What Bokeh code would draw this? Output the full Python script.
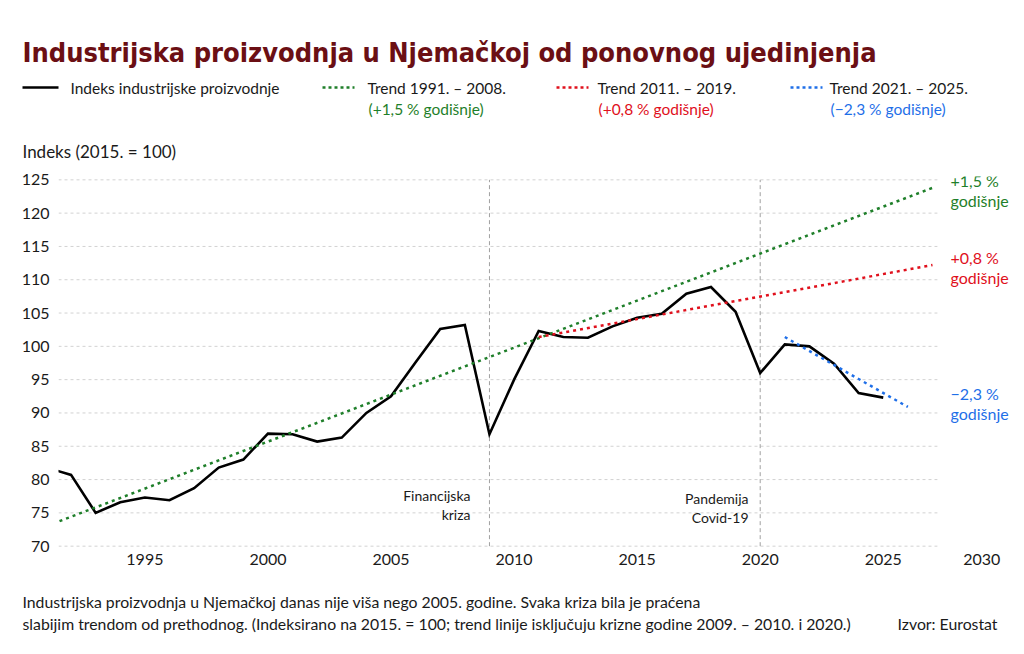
from bokeh.plotting import figure
from bokeh.models import Range1d, FixedTicker, Label
from bokeh.embed import file_html
from bokeh.resources import INLINE

# Index of industrial production, Germany (2015 = 100)
years = list(range(1991, 2026))
index_values = [81.8, 80.7, 75.0, 76.6, 77.3, 76.9, 78.7, 81.8, 83.0, 86.9,
                86.8, 85.7, 86.3, 90.0, 92.5, 97.6, 102.6, 103.2, 86.8, 95.0,
                102.3, 101.4, 101.3, 103.0, 104.3, 104.9, 107.9, 108.9, 105.2, 96.0,
                100.3, 100.0, 97.4, 93.0, 92.3]

# trend lines (start / end)
trend_green_x = [1991, 2027]
trend_green_y = [73.0, 123.8]
trend_red_x = [2011, 2027]
trend_red_y = [101.4, 112.2]
trend_blue_x = [2021, 2026]
trend_blue_y = [101.4, 90.9]

crisis_years = [2009, 2020]
y_ticks = list(range(70, 126, 5))
x_ticks = [1995, 2000, 2005, 2010, 2015, 2020, 2025, 2029]

GREEN = "#1f7f2a"
RED = "#e0101c"
BLUE = "#1f6fe8"
TEXT = "#1a1a1a"
FONT = "Lato"
W = 1020

X_START, X_END = 1991.49, 2030.17
Y_START, Y_END = 69.5, 125.5
GRID_END = 2027.2


def fx(px):
    # page pixel -> data x of the main chart
    return X_START + (px - 58) * (X_END - X_START) / 952


def fy(py):
    # page pixel -> data y of the main chart
    return Y_END - (py - 176) * (Y_END - Y_START) / 373


def blank(top, bottom):
    # text-only strip, its data units are page pixels
    f = figure(width=W, height=bottom - top, output_backend="svg", toolbar_location=None,
               x_range=Range1d(0, W), y_range=Range1d(bottom, top),
               x_axis_type=None, y_axis_type=None, title=None,
               min_border=0)
    f.outline_line_color = None
    return f


def label(f, x, y, text, color=TEXT, size="15.5px", align="left", baseline="middle",
          font=FONT, style="normal"):
    f.add_layout(Label(x=x, y=y, text=text, text_color=color,
                       text_font_size=size, text_align=align, text_baseline=baseline,
                       text_font=font, text_font_style=style))


# ---- header: title and legend
head = blank(0, 165)
label(head, 22, 52, "Industrijska proizvodnja u Njemačkoj od ponovnog ujedinjenja",
      color="#6b0f14", size="27px", baseline="alphabetic",
      font="DejaVu Sans Condensed", style="bold")

head.line([22, 58], [87, 87], line_color="black", line_width=2.5)
label(head, 70, 87, "Indeks industrijske proizvodnje")
head.line([322, 354], [87, 87], line_color=GREEN, line_width=2.5, line_dash="3 3")
label(head, 367, 87, "Trend 1991. – 2008.")
label(head, 368, 108, "(+1,5 % godišnje)", color=GREEN)
head.line([556, 588], [87, 87], line_color=RED, line_width=2.5, line_dash="3 3")
label(head, 597, 87, "Trend 2011. – 2019.")
label(head, 598, 108, "(+0,8 % godišnje)", color=RED)
head.line([790, 822], [87, 87], line_color=BLUE, line_width=2.5, line_dash="3 3")
label(head, 829, 87, "Trend 2021. – 2025.")
label(head, 830, 108, "(−2,3 % godišnje)", color=BLUE)
label(head, 22, 151, "Indeks (2015. = 100)", size="17px")

# ---- main chart
p = figure(width=W, height=415, output_backend="svg", toolbar_location=None, title=None,
           x_range=Range1d(X_START, X_END), y_range=Range1d(Y_START, Y_END),
           min_border_left=58, min_border_right=10, min_border_top=11,
           min_border_bottom=31)
p.xgrid.visible = False
p.ygrid.visible = False
p.outline_line_color = None

for ax in (p.xaxis[0], p.yaxis[0]):
    ax.axis_line_color = None
    ax.major_tick_line_color = None
    ax.minor_tick_line_color = None
    ax.major_tick_in = 0
    ax.major_tick_out = 0
    ax.major_label_text_font = FONT
    ax.major_label_text_font_size = "16px"
    ax.major_label_text_color = TEXT

p.yaxis.ticker = FixedTicker(ticks=y_ticks)
p.yaxis.major_label_standoff = 9
p.xaxis.ticker = FixedTicker(ticks=x_ticks)
p.xaxis.major_label_overrides = {2029: "2030"}
p.xaxis.major_label_standoff = 4

# dashed horizontal grid
p.segment(x0=X_START, x1=GRID_END, y0=y_ticks, y1=y_ticks,
          line_color="#d2d2d2", line_width=1, line_dash="3 3")
# crisis markers
p.segment(x0=crisis_years, x1=crisis_years, y0=70, y1=125,
          line_color="#a0a0a0", line_width=1, line_dash="4 3")

p.line(years, index_values, line_color="black", line_width=2.6, line_join="miter")
p.line(trend_green_x, trend_green_y, line_color=GREEN, line_width=2.5, line_dash="3 4")
p.line(trend_red_x, trend_red_y, line_color=RED, line_width=2.5, line_dash="3 4")
p.line(trend_blue_x, trend_blue_y, line_color=BLUE, line_width=2.5, line_dash="3 4")

# right-hand annotations
for py, txt, col in [(180, "+1,5 %", GREEN), (200, "godišnje", GREEN),
                     (257, "+0,8 %", RED), (277, "godišnje", RED),
                     (393, "−2,3 %", BLUE), (413, "godišnje", BLUE)]:
    label(p, fx(950), fy(py), txt, color=col, size="16px")

# crisis annotations
label(p, fx(470), fy(495), "Financijska", size="14px", align="right")
label(p, fx(470), fy(514), "kriza", size="14px", align="right")
label(p, fx(748), fy(498), "Pandemija", size="14px", align="right")
label(p, fx(748), fy(517), "Covid-19", size="14px", align="right")

# ---- footer
foot = blank(580, 650)
label(foot, 22, 601, "Industrijska proizvodnja u Njemačkoj danas nije viša nego 2005. godine. "
      "Svaka kriza bila je praćena", size="15.8px")
label(foot, 22, 623, "slabijim trendom od prethodnog. (Indeksirano na 2015. = 100; trend linije "
      "isključuju krizne godine 2009. – 2010. i 2020.)", size="15.8px")
label(foot, 997, 623, "Izvor: Eurostat", size="15.8px", align="right")

# separate roots, so the strips keep their own borders
open("out.html", "w").write(file_html([head, p, foot], INLINE))
